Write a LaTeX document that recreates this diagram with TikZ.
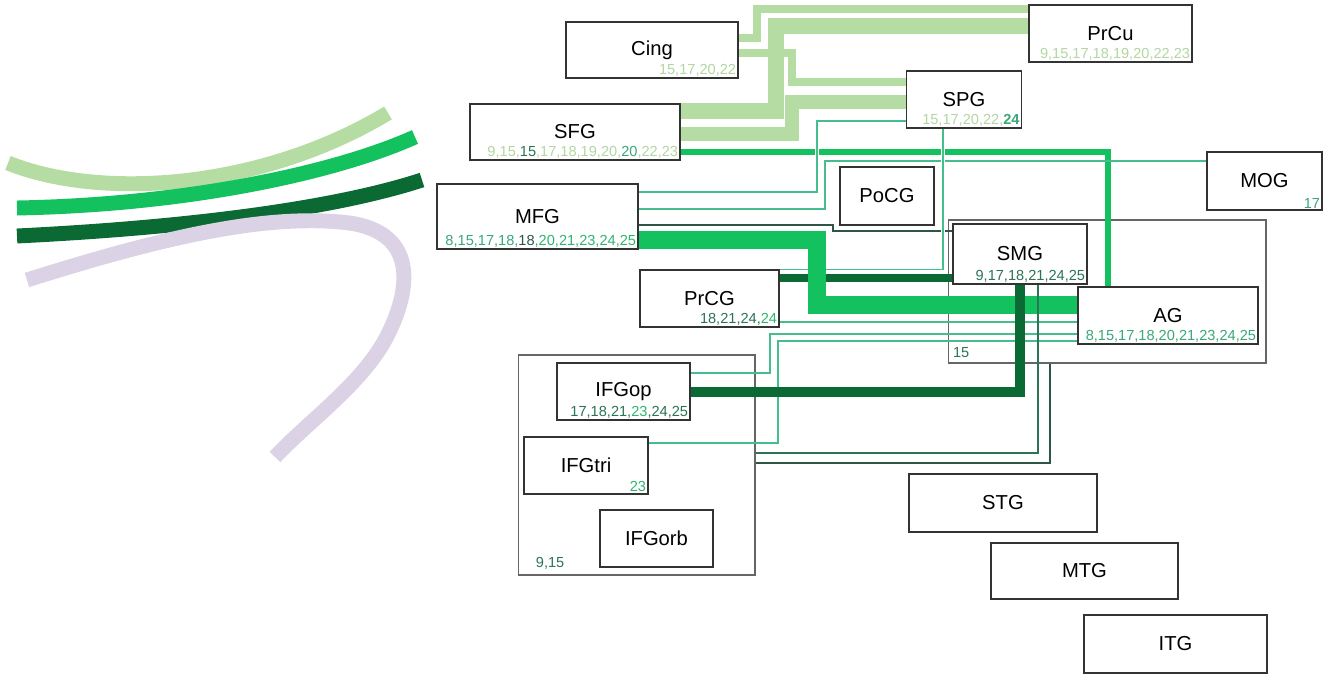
\documentclass[tikz,border=0pt]{standalone}
\usepackage{fontspec}
\setmainfont{Liberation Sans}

\definecolor{pale}{HTML}{B5DCA2}
\definecolor{paletext}{HTML}{B3D6A2}
\definecolor{bright}{HTML}{13C25E}
\definecolor{deep}{HTML}{0B6A33}
\definecolor{linkteal}{HTML}{45BD8C}
\definecolor{duskline}{HTML}{2F5545}
\definecolor{lilac}{HTML}{DCD2E6}
\definecolor{numdark}{HTML}{2B7455}
\definecolor{numgreen}{HTML}{2DB66E}
\definecolor{numteal}{HTML}{3AA878}

\tikzset{
  region/.style={draw=black!80, line width=0.8pt, fill=white, inner sep=0pt, font=\fontsize{11.5}{13}\selectfont},
  group/.style={draw=black!60, line width=0.6pt, inner sep=0pt},
  nums/.style={anchor=south east, inner sep=1.3pt, font=\fontsize{8.3}{9}\selectfont},
  fibre/.style={line width=8.5pt},
  band/.style={draw=pale, line join=miter},
  wire/.style={draw=linkteal, line width=0.8pt},
  overwire/.style={wire, preaction={draw=white, line width=2.6pt}},
}

\begin{document}
\begin{tikzpicture}[x=0.02cm, y=-0.02cm]
    \useasboundingbox (0,0) rectangle (1333,675);

    % Fibre bundles on the left
    \draw[fibre, pale] (8,163) .. controls (100,200) and (260,190) .. (388,113);
    \draw[fibre, bright] (17,208) .. controls (180,205) and (330,175) .. (415,137);
    \draw[fibre, deep] (17,236) .. controls (180,228) and (330,210) .. (422,180);
    \draw[fibre, lilac] (27,280) .. controls (160,238) and (260,215) .. (340,222)
        .. controls (420,228) and (412,290) .. (385,340)
        .. controls (360,385) and (310,420) .. (275,457);

    % Groups
    \node[group, minimum width=4.74cm, minimum height=4.40cm] (ifg) at (636.5,465) {};
    \node[group, minimum width=6.36cm, minimum height=2.86cm] (pariet) at (1107,291.5) {};
    \node[nums, anchor=south west, inner sep=3pt, text=numdark] at (pariet.south west) {15};
    \node[nums, anchor=south west, text=numdark] at ([xshift=9pt, yshift=2pt]ifg.south west) {9,15};

    % Regions
    \node[region, minimum width=3.44cm, minimum height=1.12cm] (cing) at (652,50) {Cing};
    \node[nums, text=paletext] at (cing.south east) {15,17,20,22};
    \node[region, minimum width=3.26cm, minimum height=1.14cm] (prcu) at (1110.5,33.5) {PrCu};
    \node[nums, text=paletext] at (prcu.south east) {9,15,17,18,19,20,22,23};
    \node[region, minimum width=2.30cm, minimum height=1.14cm] (spg) at (964,99.5) {SPG};
    \node[nums, text=paletext] at (spg.south east) {15,17,20,22,\textcolor{numteal}{\bfseries 24}};
    \node[region, minimum width=4.20cm, minimum height=1.12cm] (sfg) at (575,132) {SFG};
    \node[nums, text=paletext] at (sfg.south east) {9,15,\textcolor{numdark}{15},17,18,19,20,\textcolor{numteal}{20},22,23};
    \node[region, minimum width=4.02cm, minimum height=1.30cm] (mfg) at (537.5,216.5) {MFG};
    \node[nums, text=numteal] at (mfg.south east) {8,15,17,18,\textcolor{duskline}{18},\textcolor{numgreen}{20,21,23,24,25}};
    \node[region, minimum width=1.88cm, minimum height=1.16cm] (pocg) at (887,196) {PoCG};
    \node[region, minimum width=2.30cm, minimum height=1.16cm] (mog) at (1264.5,181) {MOG};
    \node[nums, text=numteal] at (mog.south east) {17};
    \node[region, minimum width=2.68cm, minimum height=1.20cm] (smg) at (1020,254) {SMG};
    \node[nums, text=numdark] at (smg.south east) {9,17,18,21,24,25};
    \node[region, minimum width=3.60cm, minimum height=1.14cm] (ag) at (1168,315.5) {AG};
    \node[nums, text=numteal] at (ag.south east) {8,15,17,18,20,21,23,24,25};
    \node[region, minimum width=2.78cm, minimum height=1.14cm] (prcg) at (709.5,298.5) {PrCG};
    \node[nums, text=numdark] at (prcg.south east) {18,21,24,\textcolor{numgreen}{24}};
    \node[region, minimum width=2.66cm, minimum height=1.14cm] (ifgop) at (623.5,391.5) {IFGop};
    \node[nums, text=numdark] at (ifgop.south east) {17,18,21,\textcolor{numgreen}{23},24,25};
    \node[region, minimum width=2.48cm, minimum height=1.14cm] (ifgtri) at (586,465.5) {IFGtri};
    \node[nums, text=numgreen] at (ifgtri.south east) {23};
    \node[region, minimum width=2.26cm, minimum height=1.14cm] (ifgorb) at (656.5,538.5) {IFGorb};
    \node[region, minimum width=3.76cm, minimum height=1.16cm] (stg) at (1003,503) {STG};
    \node[region, minimum width=3.74cm, minimum height=1.12cm] (mtg) at (1084.5,571) {MTG};
    \node[region, minimum width=3.66cm, minimum height=1.16cm] (itg) at (1175.5,644) {ITG};

    % Pale bands
    \draw[band, line width=4.5pt] (cing.east |- 0,38) -| (757,9) -- (prcu.west |- 0,9);
    \draw[band, line width=9.5pt] (sfg.east |- 0,111) -| (776,26) -- (prcu.west |- 0,26);
    \draw[band, line width=4.5pt] (cing.east |- 0,53) -| (792,82) -- (spg.west |- 0,82);
    \draw[band, line width=8.5pt] (sfg.east |- 0,134) -| (792,102) -- (spg.west |- 0,102);

    % Links from the frontal regions
    \draw[bright, line width=3pt] (sfg.east |- 0,152) -| (ag.north -| 1108,0);
    \draw[wire] (mfg.east |- 0,209) -| (825,161) -- (mog.west |- 0,161);
    \draw[duskline, line width=0.8pt] (mfg.east |- 0,225) -| (833,231) -- (smg.west |- 0,231);
    \draw[overwire] (spg.west |- 0,121) -| (817,192) -- (mfg.east |- 0,192);
    \draw[overwire] (spg.south -| 943,0) |- (prcg.north east);
    \draw[deep, line width=4pt] (prcg.east |- 0,278) -- (smg.west |- 0,278);
    \draw[bright, line width=10.8pt] (mfg.east |- 0,240) -| (817,305) -- (ag.west |- 0,305);

    % Links to the parietal regions
    \draw[wire] (prcg.east |- 0,322) -- (ag.west |- 0,322);
    \draw[wire] (ifgop.east |- 0,373) -| (770,334) -- (ag.west |- 0,334);
    \draw[wire] (ifgtri.east |- 0,443) -| (778,341) -- (ag.west |- 0,341);
    \draw[numdark, line width=0.8pt] (ifg.east |- 0,453) -| (smg.south -| 1038,0);
    \draw[duskline, line width=0.8pt] (ifg.east |- 0,463) -| (pariet.south -| 1050,0);
    \draw[deep, line width=5.7pt] (ifgop.east |- 0,392) -| (smg.south -| 1020,0);
\end{tikzpicture}
\end{document}
